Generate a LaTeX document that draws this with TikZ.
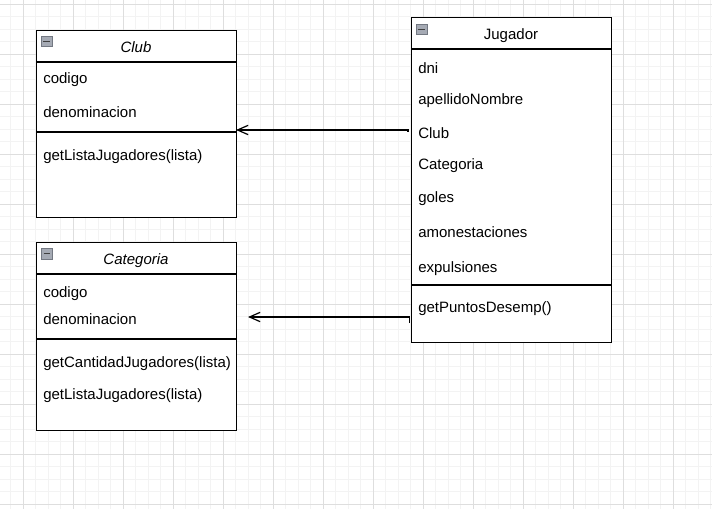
\documentclass[tikz,border=0pt]{standalone}
\usepackage{fontspec}
\setmainfont{Liberation Sans}
\usetikzlibrary{arrows.meta}
\definecolor{gridminor}{RGB}{243,243,243}
\definecolor{gridmajor}{RGB}{222,222,222}
\definecolor{iconfill}{RGB}{165,170,180}
\definecolor{iconline}{RGB}{115,120,130}
\tikzset{
  classbox/.style={draw=black, line width=0.9pt, fill=white, anchor=north west,
    minimum width=150pt, inner sep=0pt},
  member/.style={anchor=west, inner sep=0pt, text height=8.5pt, text depth=2.5pt,
    yshift=-1.1pt, font=\fontsize{11.25}{13}\selectfont},
  classname/.style={inner sep=0pt, text height=8.5pt, text depth=2.5pt,
    yshift=-1.1pt, font=\fontsize{11.25}{13}\selectfont},
  minusicon/.style={draw=iconline, fill=iconfill, minimum size=8pt, inner sep=0pt,
    line width=0.5pt,
    path picture={\draw[black!75, line width=1.1pt]
      ([xshift=-2.6pt]path picture bounding box.center) --
      ([xshift=2.6pt]path picture bounding box.center);}},
  assoc/.style={draw=black, line width=0.9pt, -{Straight Barb[length=8pt, width=7pt]}}
}
\begin{document}
\begin{tikzpicture}[x=0.75pt, y=-0.75pt]
    \useasboundingbox (0,0) rectangle (712,509);
    \fill[white] (0,0) rectangle (712,509);
    % grid
    \foreach \i in {0,...,57} \draw[gridminor, line width=0.6pt] (-1.7+12.5*\i,0) -- (-1.7+12.5*\i,509);
    \foreach \i in {0,...,40} \draw[gridminor, line width=0.6pt] (0,4.3+12.5*\i) -- (712,4.3+12.5*\i);
    \foreach \i in {0,...,13} \draw[gridmajor, line width=0.6pt] (23.3+50*\i,0) -- (23.3+50*\i,509);
    \foreach \i in {0,...,10} \draw[gridmajor, line width=0.6pt] (0,4.3+50*\i) -- (712,4.3+50*\i);

    % Club
    \node[classbox, minimum height=140.25pt] (club) at (36,30) {};
    \draw[line width=0.9pt] (36,62) -- (236,62);
    \draw[line width=0.9pt] (36,132) -- (236,132);
    \node[minusicon] (clubicon) at (46.5,41.5) {};
    \node[classname, font=\fontsize{11.25}{13}\selectfont\itshape] (clubname) at (136,47.5) {Club};
    \node[member] (clubcodigo) at (43,78.5) {codigo};
    \node[member] (clubdenom) at (43,112.5) {denominacion};
    \node[member] (clublista) at (43,155) {getListaJugadores(lista)};

    % Categoria
    \node[classbox, minimum height=141pt] (categoria) at (36,242) {};
    \draw[line width=0.9pt] (36,274) -- (236,274);
    \draw[line width=0.9pt] (36,339) -- (236,339);
    \node[minusicon] (caticon) at (47,253.5) {};
    \node[classname, font=\fontsize{11.25}{13}\selectfont\itshape] (catname) at (136,259.5) {Categoria};
    \node[member] (catcodigo) at (43,292.5) {codigo};
    \node[member] (catdenom) at (43,319.5) {denominacion};
    \node[member] (catcantidad) at (43,362.5) {getCantidadJugadores(lista)};
    \node[member] (catlista) at (43,394.5) {getListaJugadores(lista)};

    % Jugador
    \node[classbox, minimum height=243.75pt] (jugador) at (411,17) {};
    \draw[line width=0.9pt] (411,49) -- (611,49);
    \draw[line width=0.9pt] (411,285) -- (611,285);
    \node[minusicon] (jugicon) at (421.5,29.4) {};
    \node[classname] (jugname) at (511,34.5) {Jugador};
    \node[member] (jdni) at (418,68) {dni};
    \node[member] (japellido) at (418,99.5) {apellidoNombre};
    \node[member] (jclub) at (418,133) {Club};
    \node[member] (jcategoria) at (418,164.5) {Categoria};
    \node[member] (jgoles) at (418,197) {goles};
    \node[member] (jamon) at (418,232) {amonestaciones};
    \node[member] (jexpul) at (418,267) {expulsiones};
    \node[member] (jpuntos) at (418,307) {getPuntosDesemp()};

    % associations
    \coordinate (jugclub) at (408,132);
    \coordinate (clubin) at (236,130);
    \draw[assoc] (jugclub) -- ++(0,-2) -- (clubin);
    \coordinate (jugcat) at (409.8,323);
    \coordinate (catin) at (248,317);
    \draw[assoc] (jugcat) -- ++(0,-6) -- (catin);
  \end{tikzpicture}
\end{document}
